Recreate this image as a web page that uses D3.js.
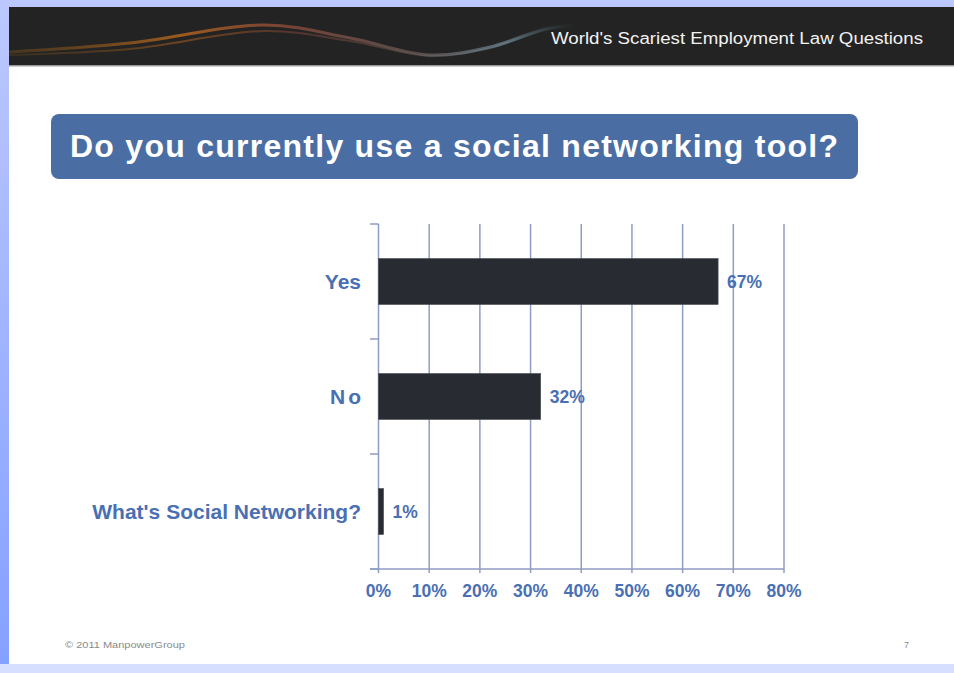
<!DOCTYPE html>
<html>
<head>
<meta charset="utf-8">
<script src="https://cdn.jsdelivr.net/npm/d3@7"></script>
<style>
  html, body { margin: 0; padding: 0; background: #fff; }
  svg { display: block; font-family: Arial, "Liberation Sans", sans-serif; }
</style>
</head>
<body>
<svg id="area" width="954" height="673"></svg>
<script>
const categories = ['Yes', 'No', "What's Social Networking?"];
const values = [67, 32, 1];
const tickValues = [0, 10, 20, 30, 40, 50, 60, 70, 80];

const svg = d3.select('#area');
const defs = svg.append('defs');

// slide frame: blue backdrop strips
const side = defs.append('linearGradient')
  .attr('id', 'side').attr('x1', 0).attr('y1', 0).attr('x2', 0).attr('y2', 1);
side.append('stop').attr('offset', 0).attr('stop-color', '#bcc8ff');
side.append('stop').attr('offset', 1).attr('stop-color', '#84a0ff');

svg.append('rect').attr('width', 954).attr('height', 673).attr('fill', 'url(#side)');
svg.append('rect').attr('x', 0).attr('y', 664).attr('width', 954).attr('height', 9).attr('fill', '#d6dfff');
svg.append('rect').attr('x', 9).attr('y', 7).attr('width', 945).attr('height', 657).attr('fill', '#ffffff');

// header bar
svg.append('rect').attr('x', 9).attr('y', 7).attr('width', 945).attr('height', 58).attr('fill', '#232323');
svg.append('rect').attr('x', 9).attr('y', 65).attr('width', 945).attr('height', 1.5).attr('fill', '#9a9a9a');

const swoosh = defs.append('linearGradient')
  .attr('id', 'swoosh').attr('gradientUnits', 'userSpaceOnUse')
  .attr('x1', 9).attr('y1', 0).attr('x2', 575).attr('y2', 0);
[[0, '#6b4a1c', 0.5], [0.3, '#a8601e', 0.9], [0.5, '#8a4a3a', 0.8],
  [0.72, '#6e5e5c', 0.7], [0.88, '#6f8a96', 0.7], [1, '#3a4a55', 0]]
  .forEach(([o, c, a]) => swoosh.append('stop').attr('offset', o).attr('stop-color', c).attr('stop-opacity', a));

const line = d3.line().curve(d3.curveCatmullRom);
const swooshUpper = [[9, 52], [130, 43], [265, 25], [350, 38], [430, 55], [490, 47], [545, 29], [575, 25]];
const swooshLower = [[9, 55], [130, 49], [265, 31], [350, 41], [430, 56], [490, 48], [545, 30], [575, 26]];
svg.append('path').attr('d', line(swooshUpper)).attr('fill', 'none')
  .attr('stroke', 'url(#swoosh)').attr('stroke-width', 3);
svg.append('path').attr('d', line(swooshLower)).attr('fill', 'none')
  .attr('stroke', 'url(#swoosh)').attr('stroke-width', 2).attr('opacity', 0.6);

svg.append('text')
  .attr('x', 923).attr('y', 44)
  .attr('text-anchor', 'end')
  .attr('fill', '#f2f2f2')
  .attr('font-size', 16)
  .attr('textLength', 372)
  .attr('lengthAdjust', 'spacingAndGlyphs')
  .text("World's Scariest Employment Law Questions");

// title box
svg.append('rect')
  .attr('x', 51).attr('y', 114).attr('width', 807).attr('height', 65)
  .attr('rx', 8)
  .attr('fill', '#4a6ea3');
svg.append('text')
  .attr('x', 70).attr('y', 157)
  .attr('fill', '#ffffff')
  .attr('font-size', 32)
  .attr('font-weight', 'bold')
  .attr('textLength', 768)
  .attr('lengthAdjust', 'spacing')
  .text('Do you currently use a social networking tool?');

// chart
const x = d3.scaleLinear([0, 80], [378.5, 784]);
const y = d3.scaleBand(categories, [224, 569]).paddingInner(0.6).paddingOuter(0.3);
const gridColor = '#8f9dc2';
const labelColor = '#4a6fb3';

const g = svg.append('g');

// vertical gridlines with short ticks below the axis
g.selectAll('line.grid')
  .data(tickValues)
  .join('line')
  .attr('class', 'grid')
  .attr('x1', (d) => x(d)).attr('x2', (d) => x(d))
  .attr('y1', 224).attr('y2', 573)
  .attr('stroke', gridColor).attr('stroke-width', 1.5);

// x axis line
g.append('line')
  .attr('x1', 370).attr('x2', x(80))
  .attr('y1', 569).attr('y2', 569)
  .attr('stroke', gridColor).attr('stroke-width', 1.5);

// category boundary ticks on the y axis
const bounds = categories.map((c) => y(c) - (y.step() * y.paddingInner()) / 2);
bounds.push(569);
g.selectAll('line.ytick')
  .data(bounds)
  .join('line')
  .attr('class', 'ytick')
  .attr('x1', 370).attr('x2', x(0))
  .attr('y1', (d) => d).attr('y2', (d) => d)
  .attr('stroke', gridColor).attr('stroke-width', 1.5);

// bars
g.selectAll('rect.bar')
  .data(values)
  .join('rect')
  .attr('class', 'bar')
  .attr('x', x(0))
  .attr('y', (d, i) => y(categories[i]))
  .attr('width', (d) => x(d) - x(0))
  .attr('height', y.bandwidth())
  .attr('fill', '#282b32')
  .attr('stroke', '#4a4d55').attr('stroke-width', 0.6);

// value labels
g.selectAll('text.val')
  .data(values)
  .join('text')
  .attr('class', 'val')
  .attr('x', (d) => x(d) + 9)
  .attr('y', (d, i) => y(categories[i]) + y.bandwidth() / 2 + 6)
  .attr('fill', labelColor)
  .attr('font-size', 17.5)
  .attr('font-weight', 'bold')
  .text((d) => `${d}%`);

// category labels
g.selectAll('text.cat')
  .data(categories)
  .join('text')
  .attr('class', 'cat')
  .attr('x', (d) => (d === 'No' ? 364 : 361))
  .attr('y', (d) => y(d) + y.bandwidth() / 2 + 7)
  .attr('text-anchor', 'end')
  .attr('fill', labelColor)
  .attr('font-size', 21)
  .attr('font-weight', 'bold')
  .attr('letter-spacing', (d) => (d === 'No' ? 3 : 0))
  .text((d) => d);

// x tick labels
g.selectAll('text.xt')
  .data(tickValues)
  .join('text')
  .attr('class', 'xt')
  .attr('x', (d) => x(d))
  .attr('y', 597)
  .attr('text-anchor', 'middle')
  .attr('fill', labelColor)
  .attr('font-size', 17.5)
  .attr('font-weight', 'bold')
  .text((d) => `${d}%`);

// footer
svg.append('text')
  .attr('x', 65).attr('y', 648)
  .attr('fill', '#8a8a8a').attr('font-size', 8.5)
  .attr('textLength', 120)
  .attr('lengthAdjust', 'spacingAndGlyphs')
  .text('© 2011 ManpowerGroup');
svg.append('text')
  .attr('x', 909).attr('y', 648)
  .attr('text-anchor', 'end')
  .attr('fill', '#8a8a8a').attr('font-size', 9)
  .text('7');
</script>
</body>
</html>
